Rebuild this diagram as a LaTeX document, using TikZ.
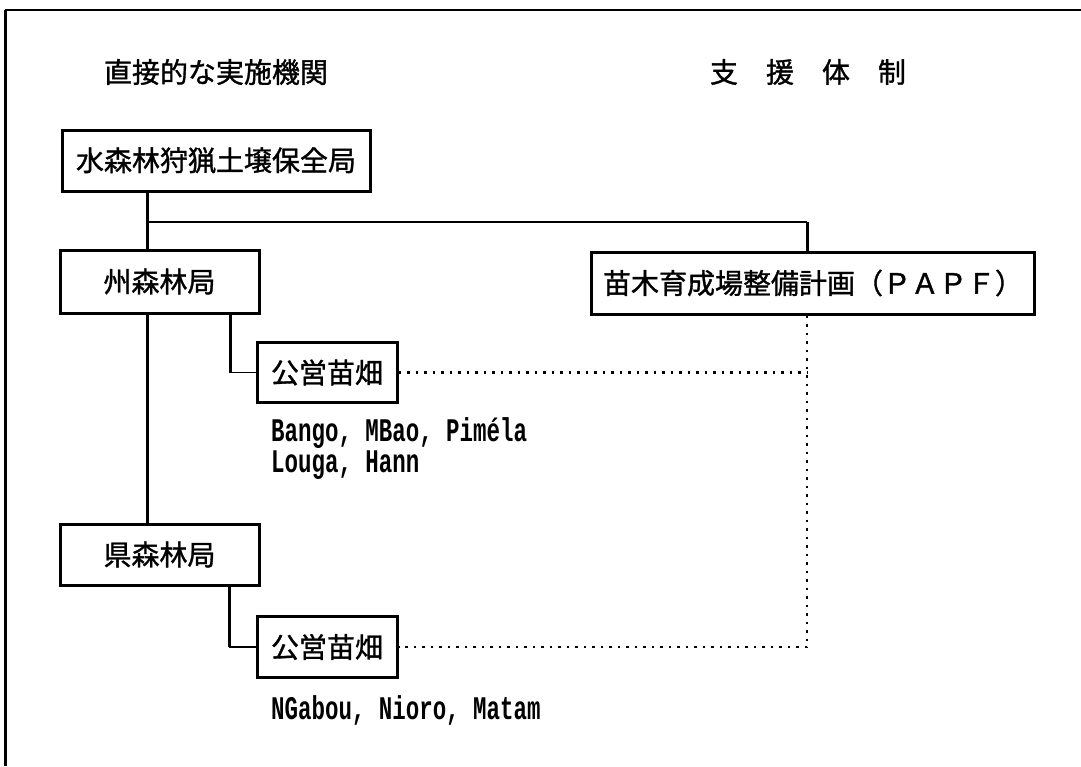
\documentclass[tikz,border=0pt]{standalone}
\usepackage{fontspec}
\usepackage{graphicx}
\newfontfamily\cjk[FakeBold=1.2]{Noto Sans CJK JP}
\newfontfamily\lat{Liberation Mono}
\tikzset{
  box/.style={draw, line width=3pt, inner sep=0pt, font=\cjk\fontsize{28}{28}\selectfont},
  ttl/.style={inner sep=0pt, font=\cjk\fontsize{28}{28}\selectfont},
  conn/.style={line width=3pt},
  thinconn/.style={line width=1.8pt},
  dots/.style={line width=2.5pt, dash pattern=on 2.5pt off 6pt},
  names/.style={anchor=west, inner sep=0pt, font=\lat\bfseries\fontsize{33}{31}\selectfont, align=left},
  frame/.style={line width=3pt}
}
\begin{document}
\begin{tikzpicture}[x=1pt,y=-1pt]
\useasboundingbox (0,0) rectangle (1081,766);
% frame
\coordinate (f0) at (5,766);
\coordinate (f1) at (5,10);
\coordinate (f2) at (1081,10);
\draw[frame] (f0) -- (f1);
\draw[line width=2pt] (f1) -- (f2);
% titles
\node[ttl] (t1) at (216,72) {直接的な実施機関};
\node[ttl] (t2) at (808,72) {支　援　体　制};
% boxes
\node[box, minimum width=308pt, minimum height=61pt] (hq) at (216,160.5) {水森林狩猟土壌保全局};
\node[box, minimum width=199pt, minimum height=63pt] (reg) at (159.5,281.5) {州森林局};
\node[box, minimum width=443pt, minimum height=62pt] (papf) at (813,283) {苗木育成場整備計画（ＰＡＰＦ）};
\node[box, minimum width=140pt, minimum height=60pt] (n1) at (327,372.5) {公営苗畑};
\node[box, minimum width=199pt, minimum height=61pt] (dep) at (159.5,554.5) {県森林局};
\node[box, minimum width=140pt, minimum height=61pt] (n2) at (327,647) {公営苗畑};
% labels
\node[names] (l1) at (271,449) {\scalebox{0.68}[1]{Bango, MBao, Piméla}\\\scalebox{0.68}[1]{Louga, Hann}};
\node[names] (l2) at (271,710) {\scalebox{0.68}[1]{NGabou, Nioro, Matam}};
% junction coordinates
\coordinate (j) at (147,222);
\coordinate (d) at (807,222);
\coordinate (k1) at (230,372.5);
\coordinate (k2) at (229,647);
% solid connectors
\draw[conn] (hq.south -| j) -- (reg.north -| j);
\draw[thinconn] (j) -- (d);
\draw[conn] (d) -- (d |- papf.north);
\draw[conn] (reg.south -| j) -- (dep.north -| j);
\draw[conn] (reg.south -| k1) -- (k1);
\draw[thinconn] (k1) -- (n1.west);
\draw[conn] (dep.south -| k2) -- (k2);
\draw[thinconn] (k2) -- (n2.west);
% dotted connectors
\draw[dots] (n1.east) -- (n1.east -| d);
\draw[dots] (d |- papf.south) -- (d |- n2.east) -- (n2.east);
\end{tikzpicture}
\end{document}
